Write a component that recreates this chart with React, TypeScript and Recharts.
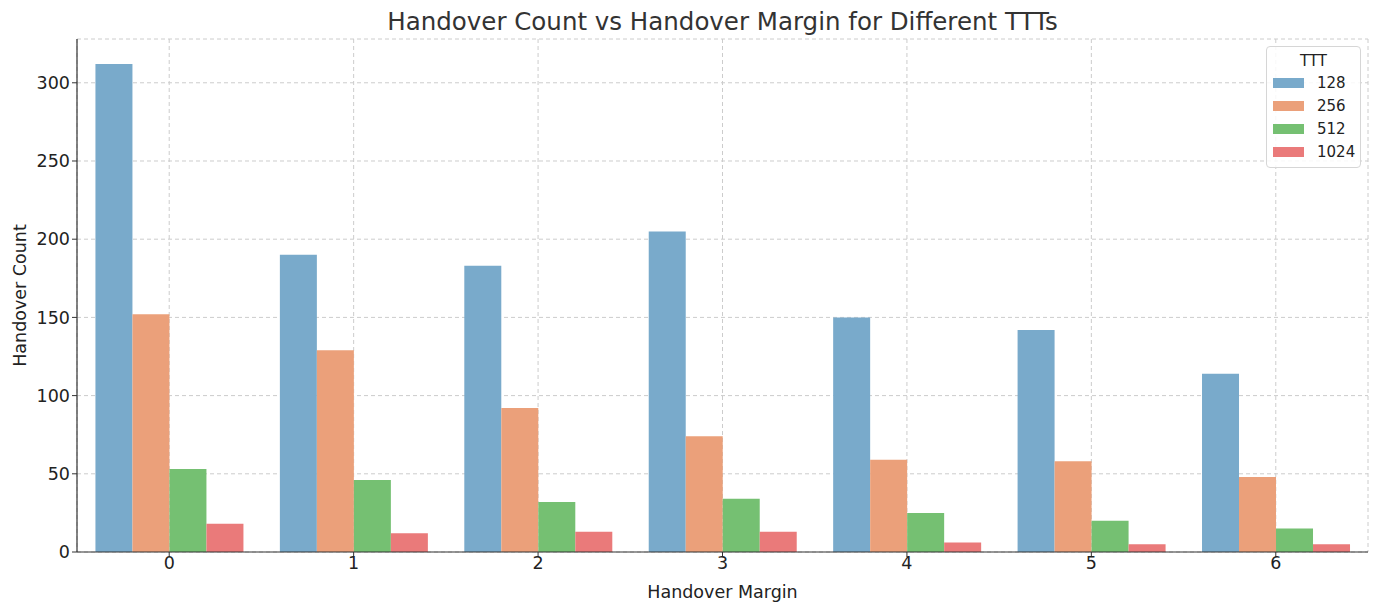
import { BarChart, Bar, XAxis, YAxis, CartesianGrid } from 'recharts';

const handoverMargins = ['0', '1', '2', '3', '4', '5', '6'];
const ttt128 = [312, 190, 183, 205, 150, 142, 114];
const ttt256 = [152, 129, 92, 74, 59, 58, 48];
const ttt512 = [53, 46, 32, 34, 25, 20, 15];
const ttt1024 = [18, 12, 13, 13, 6, 5, 5];
const yTicks = [0, 50, 100, 150, 200, 250, 300];

const series = [
  { key: 't128', name: '128', color: '#79AACB' },
  { key: 't256', name: '256', color: '#EBA07A' },
  { key: 't512', name: '512', color: '#75C072' },
  { key: 't1024', name: '1024', color: '#EA7A7A' },
];

const chartData = handoverMargins.map((m, i) => ({
  margin: m,
  t128: ttt128[i],
  t256: ttt256[i],
  t512: ttt512[i],
  t1024: ttt1024[i],
}));

const font = '"DejaVu Sans", sans-serif';

export default function App() {
  return (
    <div style={{ position: 'absolute', left: 0, top: 0, width: 1379, height: 612, fontFamily: font, background: '#fff' }}>
      <div
        style={{
          position: 'absolute',
          top: 6,
          left: 77,
          width: 1291,
          textAlign: 'center',
          fontSize: 24.5,
          color: '#333',
          lineHeight: '32px',
        }}
      >
        Handover Count vs Handover Margin for Different TTTs
      </div>

      <BarChart
        width={1379}
        height={612}
        data={chartData}
        margin={{ top: 39, right: 11, left: 0, bottom: 0 }}
        barCategoryGap="10%"
        barGap={0}
        style={{ fontFamily: font }}
      >
        <CartesianGrid stroke="#cccccc" strokeDasharray="4 3" />
        <XAxis
          dataKey="margin"
          height={60}
          tickSize={5}
          tickMargin={0}
          tick={{ fontSize: 17.5, fill: '#222' }}
          tickLine={{ stroke: '#333' }}
          axisLine={{ stroke: '#333', strokeWidth: 1.2 }}
          label={{ value: 'Handover Margin', position: 'insideBottom', offset: 14, fontSize: 17.5, fill: '#222' }}
        />
        <YAxis
          width={77}
          domain={[0, 328]}
          ticks={yTicks}
          tickSize={5}
          tickMargin={2}
          tick={{ fontSize: 17.5, fill: '#222' }}
          tickLine={{ stroke: '#333' }}
          axisLine={{ stroke: '#333', strokeWidth: 1.2 }}
          label={{
            value: 'Handover Count',
            angle: -90,
            position: 'insideLeft',
            offset: 20,
            fontSize: 17.5,
            fill: '#222',
            style: { textAnchor: 'middle' },
          }}
        />
        {series.map(s => (
          <Bar key={s.key} dataKey={s.key} name={s.name} fill={s.color} isAnimationActive={false} />
        ))}
      </BarChart>

      {/* legend box, top right */}
      <div
        style={{
          position: 'absolute',
          left: 1266,
          top: 46,
          width: 95,
          height: 122,
          border: '1px solid #d6d6d6',
          borderRadius: 4,
          background: 'rgba(255,255,255,0.85)',
          boxSizing: 'border-box',
          fontSize: 15,
          color: '#222',
        }}
      >
        <div style={{ textAlign: 'center', marginTop: 4, lineHeight: '20px' }}>TTT</div>
        {series.map(s => (
          <div key={s.key} style={{ display: 'flex', alignItems: 'center', height: 23, marginLeft: 6 }}>
            <span style={{ display: 'inline-block', width: 31, height: 10, background: s.color, marginRight: 13 }} />
            <span>{s.name}</span>
          </div>
        ))}
      </div>
    </div>
  );
}
